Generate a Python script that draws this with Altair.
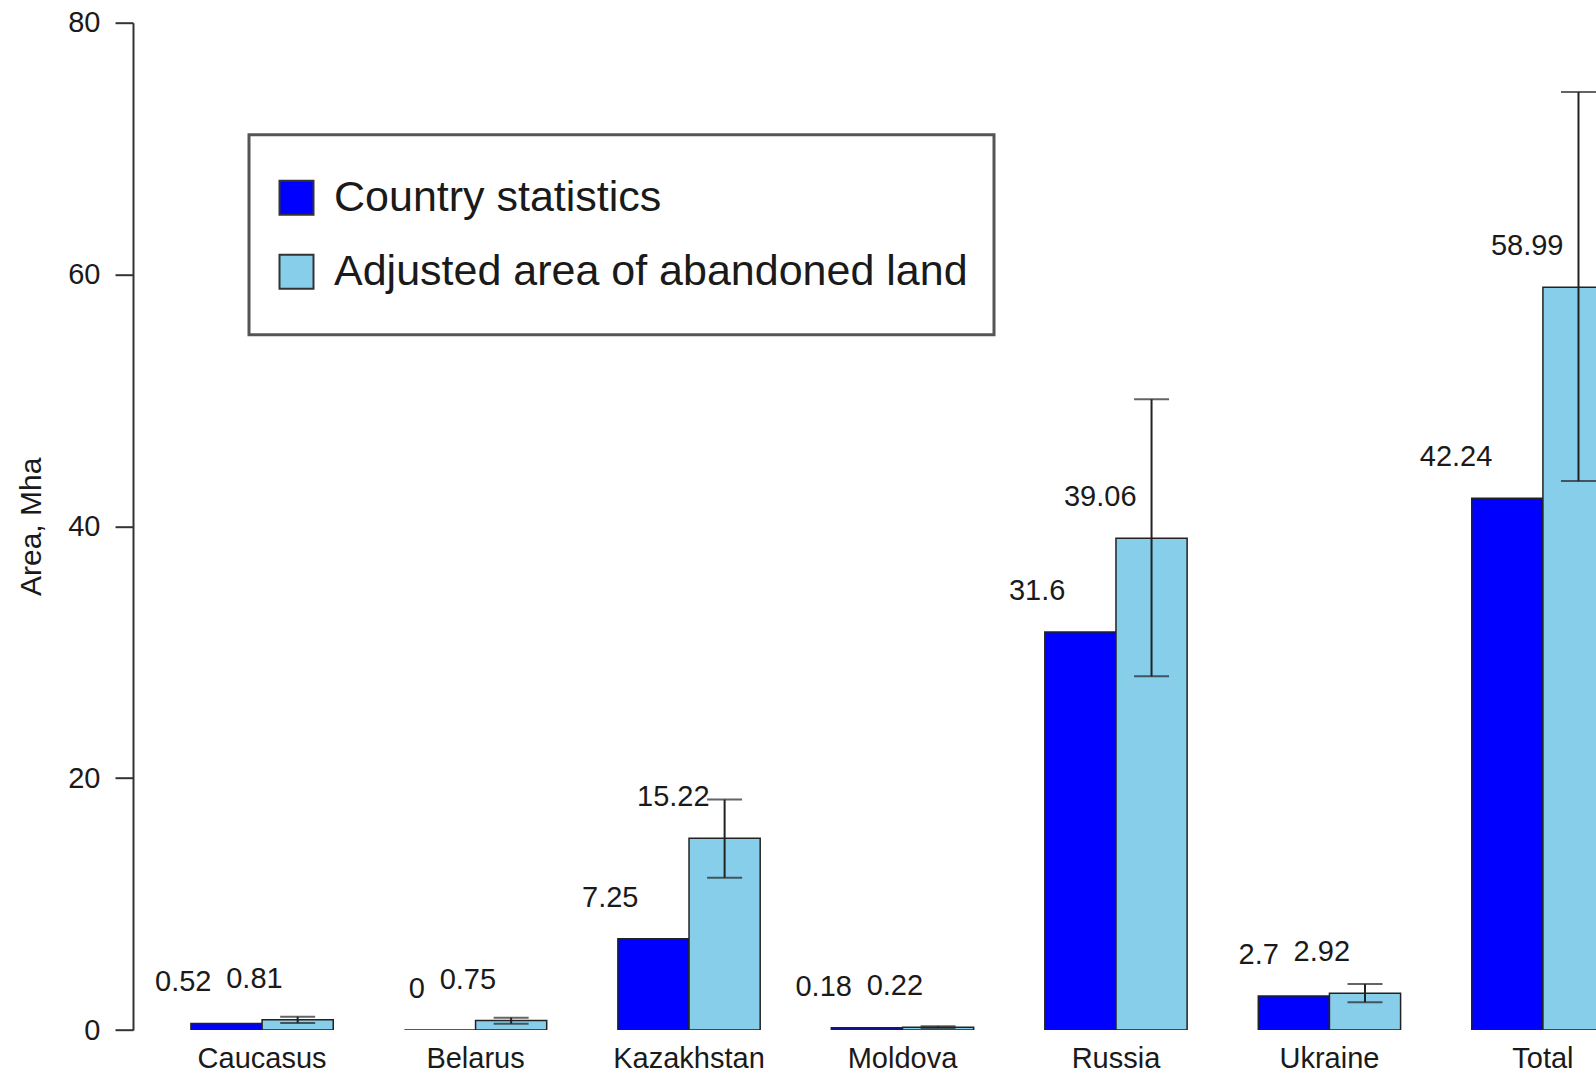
import altair as alt
import pandas as pd

# ---- data ----
CATEGORIES = ["Caucasus", "Belarus", "Kazakhstan", "Moldova", "Russia", "Ukraine", "Total"]
SERIES = ["Country statistics", "Adjusted area of abandoned land"]
COUNTRY_STATS = [0.52, 0, 7.25, 0.18, 31.6, 2.7, 42.24]
ADJUSTED_AREA = [0.81, 0.75, 15.22, 0.22, 39.06, 2.92, 58.99]
ERR_LOW = [0.55, 0.50, 12.1, 0.15, 28.1, 2.2, 43.6]
ERR_HIGH = [1.05, 0.98, 18.3, 0.30, 50.1, 3.65, 74.5]
Y_TICKS = [0, 20, 40, 60, 80]
COLORS = ["#0000FF", "#87CEEB"]

rows = []
for c, a, b in zip(CATEGORIES, COUNTRY_STATS, ADJUSTED_AREA):
    rows.append({"cat": c, "series": SERIES[0], "value": a, "label": f"{a:g}"})
    rows.append({"cat": c, "series": SERIES[1], "value": b, "label": f"{b:g}"})
bars_df = pd.DataFrame(rows)

err_df = pd.DataFrame({
    "cat": CATEGORIES,
    "series": [SERIES[1]] * len(CATEGORIES),
    "lo": ERR_LOW,
    "hi": ERR_HIGH,
})

FONT = "Liberation Sans"
TXT = "#1a1a1a"

x_enc = alt.X(
    "cat:N",
    sort=CATEGORIES,
    scale=alt.Scale(domain=CATEGORIES, range=[1, 1538], paddingInner=1 / 3, paddingOuter=0.2667),
    axis=alt.Axis(title=None, labelAngle=0, domain=False, ticks=False, tickSize=0,
                  labelFontSize=29, labelFont=FONT, labelColor=TXT, labelPadding=14),
)
xo_enc = alt.XOffset("series:N", sort=SERIES, scale=alt.Scale(domain=SERIES, paddingInner=0, paddingOuter=0))
y_scale = alt.Scale(domain=[0, 80], nice=False, zero=True)

bars = alt.Chart(bars_df).mark_bar(stroke="#222222", strokeWidth=1.5, clip=True).encode(
    x=x_enc,
    xOffset=xo_enc,
    y=alt.Y(
        "value:Q",
        scale=y_scale,
        axis=alt.Axis(
            title="Area, Mha", values=Y_TICKS, grid=False,
            domainColor="#333333", domainWidth=2, tickColor="#333333", tickWidth=2,
            tickSize=18, labelPadding=15, labelFontSize=29, labelFont=FONT, labelColor=TXT,
            titleFont=FONT, titleFontSize=30, titleFontWeight="normal", titleColor=TXT,
            titleX=-93, titleY=503.6, titleAngle=-90, titleBaseline="alphabetic", titleAlign="center",
        ),
    ),
    color=alt.Color(
        "series:N",
        sort=SERIES,
        scale=alt.Scale(domain=SERIES, range=COLORS),
        legend=alt.Legend(
            title=None, orient="none", legendX=116, legendY=112,
            symbolType="square", symbolSize=1156, symbolStrokeWidth=2, symbolStrokeColor="#333333",
            labelFont=FONT, labelFontSize=43, labelColor=TXT, labelOffset=16,
            labelLimit=2000, padding=26, strokeColor="#555555", fillColor="#ffffff",
            clipHeight=74, rowPadding=0,
        ),
    ),
)

labels = alt.Chart(bars_df).mark_text(
    align="right", baseline="middle", dx=-15, dy=-41, fontSize=29, font=FONT, color=TXT
).encode(
    x=alt.X("cat:N", sort=CATEGORIES),
    xOffset=alt.XOffset("series:N", sort=SERIES),
    y=alt.Y("value:Q", scale=y_scale),
    text=alt.Text("label:N"),
)

err_line = alt.Chart(err_df).mark_rule(color="#222222", strokeWidth=2, clip=True).encode(
    x=alt.X("cat:N", sort=CATEGORIES),
    xOffset=alt.XOffset("series:N", sort=SERIES),
    y=alt.Y("lo:Q", scale=y_scale),
    y2="hi:Q",
)
cap_hi = alt.Chart(err_df).mark_tick(color="#222222", size=35, thickness=2, clip=True).encode(
    x=alt.X("cat:N", sort=CATEGORIES),
    xOffset=alt.XOffset("series:N", sort=SERIES),
    y=alt.Y("hi:Q", scale=y_scale),
)
cap_lo = alt.Chart(err_df).mark_tick(color="#222222", size=35, thickness=2, clip=True).encode(
    x=alt.X("cat:N", sort=CATEGORIES),
    xOffset=alt.XOffset("series:N", sort=SERIES),
    y=alt.Y("lo:Q", scale=y_scale),
)

chart = (
    alt.layer(bars, err_line, cap_hi, cap_lo, labels)
    .properties(
        width=1463, height=1007.3,
        autosize=alt.AutoSizeParams(type="none"),
        padding={"left": 133, "top": 22.7, "right": 0, "bottom": 43},
        background="#ffffff",
    )
    .configure_view(strokeWidth=0)
    .configure_legend(strokeWidth=3)
)

chart.save("out.html", embed_options={"renderer": "svg", "actions": False})
